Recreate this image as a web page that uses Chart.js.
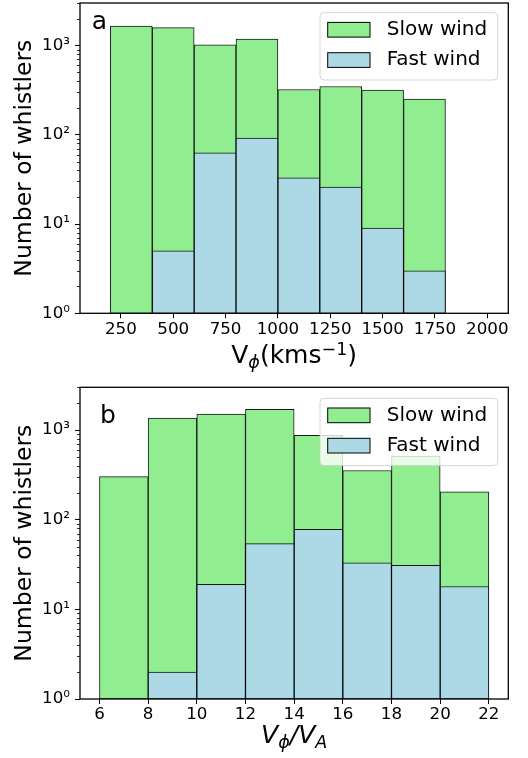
<!DOCTYPE html>
<html>
<head>
<meta charset="utf-8">
<script src="https://cdn.jsdelivr.net/npm/chart.js@4.4.1/dist/chart.umd.min.js"></script>
<style>
  html, body { margin: 0; padding: 0; background: #fff; }
  .panel { position: absolute; left: 0; width: 528px; height: 379px; }
</style>
</head>
<body>
<div class="panel" style="top:0"><canvas id="chartA" width="528" height="379"></canvas></div>
<div class="panel" style="top:379px"><canvas id="chartB" width="528" height="379"></canvas></div>
<script>
// Panel a: phase speed in km/s
const edgesA = [200, 400, 600, 800, 1000, 1200, 1400, 1600, 1800];
const slowA = [1650, 1590, 1020, 1180, 322, 348, 317, 251];
const fastA = [null, 5, 63, 92, 33, 26, 9, 3];
const ticksA = [250, 500, 750, 1000, 1250, 1500, 1750, 2000];

// Panel b: phase speed / Alfven speed
const edgesB = [6, 8, 10, 12, 14, 16, 18, 20, 22];
const slowB = [303, 1360, 1510, 1700, 873, 354, 512, 205];
const fastB = [null, 2, 19, 54, 78, 33, 31, 18];
const ticksB = [6, 8, 10, 12, 14, 16, 18, 20, 22];

const yMajor = [1, 10, 100, 1000];
const yLabels = ['10⁰', '10¹', '10²', '10³'];
const seriesLabels = ['Slow wind', 'Fast wind'];
const slowColor = '#90ee90';
const fastColor = '#add8e6';

const FONT = '"DejaVu Sans", sans-serif';
Chart.defaults.font.family = FONT;
Chart.defaults.color = '#000';

function toPoints(edges, values) {
    return values.map((v, i) => ({ x: (edges[i] + edges[i + 1]) / 2, y: v }));
}

// extra drawing: frame, minor ticks, legend, panel letter, math x label
const panelExtras = {
    id: 'panelExtras',
    afterDraw(chart, args, opts) {
        const ctx = chart.ctx;
        const a = chart.chartArea;
        const y = chart.scales.y;
        ctx.save();

        // minor log ticks
        ctx.strokeStyle = '#000';
        ctx.lineWidth = 0.8;
        yMajor.forEach(d => {
            for (let m = 2; m <= 9; m++) {
                const v = m * d;
                if (v > y.max) continue;
                const py = Math.round(y.getPixelForValue(v)) + 0.5;
                ctx.beginPath();
                ctx.moveTo(a.left - 3, py);
                ctx.lineTo(a.left, py);
                ctx.stroke();
            }
        });

        // frame
        ctx.lineWidth = 1.3;
        ctx.strokeRect(a.left, a.top, a.right - a.left, a.bottom - a.top);

        // legend
        const lw = 177.7, lh = 67.3;
        const lx = a.right - 10.6 - lw;
        const ly = a.top + opts.legendTop;
        ctx.beginPath();
        ctx.roundRect(lx, ly, lw, lh, 4);
        ctx.fillStyle = 'rgba(255,255,255,0.8)';
        ctx.fill();
        ctx.strokeStyle = 'rgba(204,204,204,0.8)';
        ctx.lineWidth = 1;
        ctx.stroke();
        const rows = [chart.data.datasets[1], chart.data.datasets[0]];
        rows.forEach((ds, i) => {
            const cy = ly + 17 + i * 30.3;
            ctx.fillStyle = ds.backgroundColor;
            ctx.fillRect(lx + 7.7, cy - 7.3, 42.3, 14.7);
            ctx.strokeStyle = '#000';
            ctx.lineWidth = 1;
            ctx.strokeRect(lx + 7.7, cy - 7.3, 42.3, 14.7);
            ctx.fillStyle = '#000';
            ctx.font = '20px ' + FONT;
            ctx.textBaseline = 'middle';
            ctx.textAlign = 'left';
            ctx.fillText(ds.label, lx + 66.7, cy);
        });

        // panel letter
        ctx.font = '25px ' + FONT;
        ctx.textBaseline = 'alphabetic';
        ctx.fillText(opts.letter, a.left + opts.letterX, a.top + opts.letterY);

        // x label with sub/superscripts
        const size = 25;
        const parts = opts.xlabel.map(p => {
            const s = (p.sub || p.sup) ? size * 0.7 : size;
            const f = (p.it ? 'italic ' : '') + s + 'px ' + FONT;
            ctx.font = f;
            return { t: p.t, f: f, w: ctx.measureText(p.t).width, dy: p.sub ? 5 : (p.sup ? -8.5 : 0) };
        });
        const total = parts.reduce((s, p) => s + p.w, 0);
        let x = (a.left + a.right) / 2 - total / 2;
        const base = a.bottom + opts.xlabelY;
        parts.forEach(p => {
            ctx.font = p.f;
            ctx.fillText(p.t, x, base + p.dy);
            x += p.w;
        });
        ctx.restore();
    }
};

function makeHistogram(canvasId, cfg) {
    const ctx = document.getElementById(canvasId).getContext('2d');
    const barStyle = {
        borderColor: 'rgba(0,0,0,0.9)',
        borderWidth: 1,
        borderSkipped: false,
        barPercentage: 1,
        categoryPercentage: 1,
        grouped: false
    };
    return new Chart(ctx, {
        type: 'bar',
        data: {
            datasets: [
                Object.assign({ label: seriesLabels[1], data: toPoints(cfg.edges, cfg.fast),
                    backgroundColor: fastColor, order: 1 }, barStyle),
                Object.assign({ label: seriesLabels[0], data: toPoints(cfg.edges, cfg.slow),
                    backgroundColor: slowColor, order: 2 }, barStyle)
            ]
        },
        options: {
            responsive: false,
            animation: false,
            layout: { padding: { left: 0, right: 19.7, top: cfg.top, bottom: 0 } },
            plugins: {
                legend: { display: false },
                tooltip: { enabled: false },
                panelExtras: cfg.extras
            },
            scales: {
                x: {
                    type: 'linear',
                    min: cfg.xmin,
                    max: cfg.xmax,
                    offset: false,
                    grid: { offset: false, drawOnChartArea: false, drawTicks: true, tickLength: 5, color: '#000', lineWidth: 1 },
                    border: { display: false },
                    ticks: { font: { size: 16.7 }, padding: 1, maxRotation: 0, callback: v => String(v) },
                    afterBuildTicks: s => { s.ticks = cfg.ticks.map(v => ({ value: v })); },
                    afterFit: s => { s.height = 379 - cfg.bottom; s.paddingLeft = 0; s.paddingRight = 0; }
                },
                y: {
                    type: 'logarithmic',
                    min: 1,
                    max: 3000,
                    grid: { drawOnChartArea: false, drawTicks: true, tickLength: 5, color: '#000', lineWidth: 1 },
                    border: { display: false },
                    ticks: { font: { size: 16.7 }, padding: 5,
                        callback: v => { const i = yMajor.indexOf(v); return i >= 0 ? yLabels[i] : ''; } },
                    afterBuildTicks: s => { s.ticks = yMajor.map(v => ({ value: v, major: true })); },
                    afterFit: s => { s.width = 80; s.paddingTop = 0; s.paddingBottom = 0; },
                    title: { display: true, text: 'Number of whistlers', font: { size: 23.5 }, padding: { top: 11, bottom: 0 } }
                }
            }
        },
        plugins: [panelExtras]
    });
}

makeHistogram('chartA', {
    edges: edgesA, slow: slowA, fast: fastA, ticks: ticksA,
    xmin: 55, xmax: 2100, top: 3, bottom: 313.3,
    extras: {
        legendTop: 9.7, letter: 'a', letterX: 11.7, letterY: 26.3, xlabelY: 50,
        xlabel: [{ t: 'V' }, { t: 'ϕ', sub: true, it: true }, { t: '(kms' }, { t: '−1', sup: true }, { t: ')' }]
    }
});

makeHistogram('chartB', {
    edges: edgesB, slow: slowB, fast: fastB, ticks: ticksB,
    xmin: 5.2, xmax: 22.8, top: 8.3, bottom: 320,
    extras: {
        legendTop: 11, letter: 'b', letterX: 20, letterY: 36, xlabelY: 44,
        xlabel: [{ t: 'V', it: true }, { t: 'ϕ', sub: true, it: true }, { t: '/V', it: true }, { t: 'A', sub: true, it: true }]
    }
});
</script>
</body>
</html>
